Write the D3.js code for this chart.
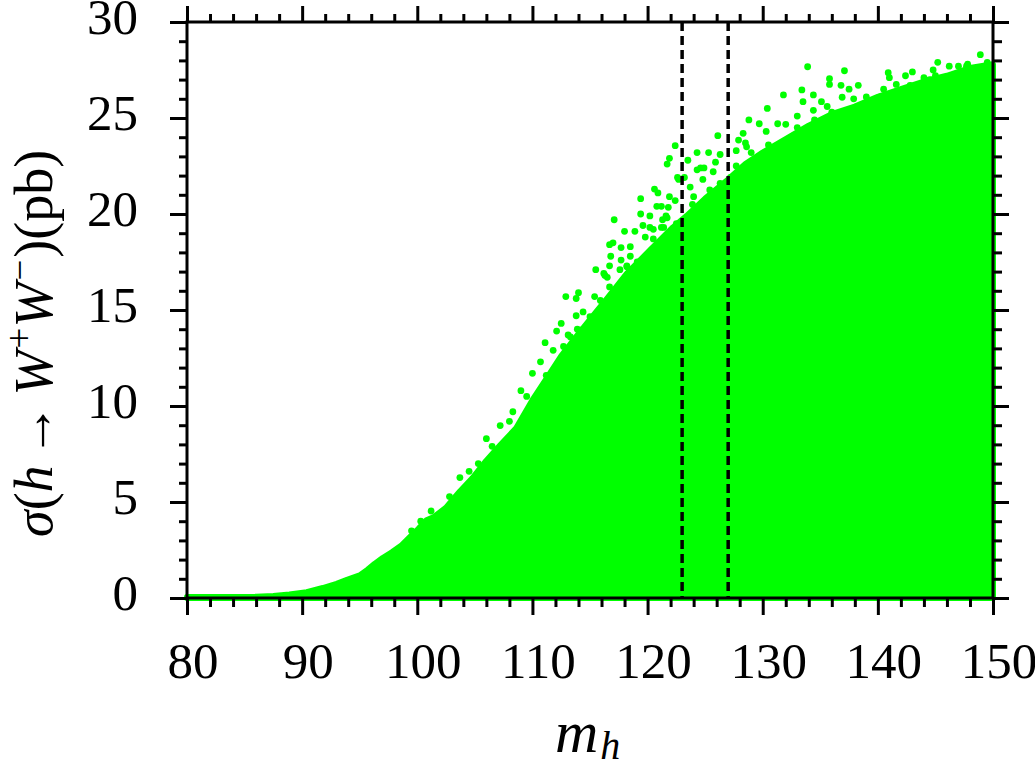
<!DOCTYPE html>
<html>
<head>
<meta charset="utf-8">
<script src="https://cdn.jsdelivr.net/npm/d3@7"></script>
<style>
  html, body { margin: 0; padding: 0; background: #fff; }
  svg { display: block; }
</style>
</head>
<body>
<svg id="chart" width="1035" height="762"></svg>
<script>
// ---- data ----
// dense body of the scatter: upper edge (m_h, sigma in pb)
const bodyM = [80, 82, 84, 86, 87.5, 88.9, 90.4, 91.8, 93.0, 93.9, 95.0, 95.7, 96.3, 97.0, 97.8, 98.6, 99.4, 100.1, 100.8, 101.4, 102.5, 103.7, 104.8, 106.0, 107.2, 108.6, 110.1, 111.2, 112.5, 113.8, 115.0, 116.5, 118.2, 120.2, 122.2, 123.4, 125.0, 127.0, 128.5, 130.0, 132.0, 134.0, 136.0, 138.0, 140.0, 142.0, 144.0, 146.0, 148.0, 150.0];
const bodyS = [0.05, 0.05, 0.05, 0.06, 0.1, 0.18, 0.3, 0.52, 0.74, 0.95, 1.18, 1.48, 1.78, 2.08, 2.38, 2.72, 3.2, 3.6, 4.05, 4.2, 4.7, 5.55, 6.25, 7.15, 7.95, 8.85, 10.4, 11.4, 12.6, 13.6, 14.5, 15.6, 16.9, 18.1, 19.3, 19.9, 20.8, 21.8, 22.6, 23.2, 23.9, 24.6, 25.2, 25.6, 26.1, 26.5, 26.9, 27.2, 27.6, 27.8];

// individual points scattered above / along the edge of the dense body
const dotM = [101.2, 102.8, 103.7, 106.0, 107.2, 108.3, 109.0, 110.0, 110.7, 111.2, 111.8,
  111.1, 112.5, 113.1, 113.8, 113.9, 112.9, 114.0, 113.8, 115.4, 115.5, 116.3, 116.7, 116.8, 117.7, 117.6, 118.2, 116.2,
  117.0, 117.7, 118.5, 116.7, 118.0, 118.9, 119.6, 119.8, 120.5, 120.2, 121.2, 117.1, 119.4, 120.2, 121.3, 121.6, 121.7,
  120.8, 121.2, 121.8, 119.4, 121.9, 122.4, 120.6, 120.9, 122.7, 123.2, 122.6, 124.0, 121.7, 121.9, 122.4, 123.5, 124.3,
  124.3, 124.9, 125.7, 125.3, 126.3, 125.9, 126.1, 127.2, 127.7, 127.9, 128.3, 128.5, 128.6, 124.6,
  128.8, 129.7, 130.3, 130.4, 131.3, 132.0, 131.8, 133.4, 133.5, 133.9, 134.4, 135.1, 135.8, 135.8, 136.8, 136.9, 137.1,
  137.5, 137.9, 138.3, 140.5, 140.9, 141.0, 141.6, 141.8, 142.4, 142.6, 142.8, 143.0, 144.0, 144.5, 144.8, 144.9, 145.0,
  145.2, 146.2, 147.0, 148.9, 147.8, 149.5, 129.0, 130.5, 132.5, 133.0, 134.5, 136.0,
  112.1, 112.7, 114.4, 115.0, 115.9, 116.7, 117.3, 116.5, 118.2, 119.1, 120.2, 118.5, 121.1, 122.0, 120.5, 121.4, 122.5,
  124.0, 125.1, 123.9, 125.4, 126.3, 127.7, 128.3, 123.7, 124.8, 118.5, 119.6, 114.4, 113.3,
  133.8, 135.6, 136.7, 138.2, 139.6, 140.2, 141.9, 143.4, 144.2, 146.0, 147.1, 148.3, 132.4, 131.5, 130.3, 129.5,
  133.0, 134.4, 135.6, 139.0, 141.1, 147.7,
  104.5, 105.3, 106.5, 108.0, 109.5, 100.3, 99.5];
const dotS = [4.53, 5.28, 6.27, 8.3, 8.98, 9.7, 10.8, 11.7, 12.3, 11.6, 12.9,
  13.3, 14.3, 13.7, 14.7, 14.0, 15.7, 15.9, 15.6, 15.7, 17.1, 16.8, 17.3, 17.8, 17.6, 17.1, 17.3, 16.9,
  18.5, 18.25, 18.3, 18.4, 19.1, 19.1, 19.4, 18.8, 18.7, 19.3, 19.3, 19.7, 20.0, 19.9, 19.7, 19.9, 19.8,
  20.4, 20.4, 20.35, 20.8, 20.9, 20.7, 21.3, 21.1, 21.8, 21.9, 21.9, 20.9, 22.6, 22.9, 23.56, 22.8, 23.2,
  22.3, 22.4, 22.2, 23.2, 23.1, 22.7, 24.08, 21.9, 23.3, 23.85, 24.2, 23.7, 23.5, 22.4,
  24.9, 24.7, 24.3, 25.5, 24.7, 24.67, 26.2, 26.46, 25.85, 27.67, 26.2, 25.85, 27.05, 26.75, 26.7, 26.08, 27.46,
  26.5, 26.0, 26.7, 26.5, 27.36, 27.1, 26.75, 26.4, 27.2, 26.2, 26.7, 27.4, 27.1, 27.0, 27.5, 26.7, 27.2,
  27.9, 27.7, 27.7, 28.3, 27.8, 27.9, 23.2, 23.6, 24.0, 24.5, 24.9, 25.3,
  13.9, 13.1, 14.9, 14.65, 15.5, 16.2, 15.7, 16.7, 17.25, 17.5, 17.8, 17.8, 18.5, 18.6, 19.2, 19.3, 19.5,
  20.0, 20.4, 20.5, 21.25, 21.6, 22.5, 22.3, 21.4, 21.8, 16.7, 16.9, 14.0, 13.6,
  24.2, 24.5, 25.1, 25.4, 25.8, 26.1, 26.3, 26.3, 26.6, 27.0, 27.3, 27.5, 23.85, 23.5, 23.2, 22.8,
  25.1, 25.4, 25.6, 26.1, 25.9, 27.7,
  6.6, 7.0, 7.9, 9.2, 10.5, 4.0, 3.5];

// vertical dashed markers
const markers = [123, 127];

// axis ticks
const xMajor = [80, 90, 100, 110, 120, 130, 140, 150];
const xMinor = [82, 84, 86, 88, 92, 94, 96, 98, 102, 104, 106, 108, 112, 114, 116, 118, 122, 124, 126, 128, 132, 134, 136, 138, 142, 144, 146, 148];
const yMajor = [0, 5, 10, 15, 20, 25, 30];
const yMinor = [1, 2, 3, 4, 6, 7, 8, 9, 11, 12, 13, 14, 16, 17, 18, 19, 21, 22, 23, 24, 26, 27, 28, 29];

// ---- drawing ----
const FONT = "'Liberation Serif', 'Times New Roman', Times, serif";
const L = 187, R = 993, T = 22, B = 598;
const svg = d3.select("#chart").attr("font-family", FONT);
const x = d3.scaleLinear().domain([80, 150]).range([L, R]);
const y = d3.scaleLinear().domain([0, 30]).range([B, T]);
const GREEN = "#00ff00";

const body = bodyM.map((m, i) => ({ m, s: bodyS[i] }));
const area = d3.area().x(d => x(d.m)).y0(y(0)).y1(d => y(d.s));
svg.append("path").datum(body)
  .attr("d", area)
  .attr("fill", GREEN)
  .attr("stroke", GREEN)
  .attr("stroke-width", 6)
  .attr("stroke-linejoin", "round");

const dots = dotM.map((m, i) => ({ m, s: dotS[i] }));
svg.append("g").selectAll("circle").data(dots).join("circle")
  .attr("cx", d => x(d.m)).attr("cy", d => y(d.s)).attr("r", 3.4)
  .attr("fill", GREEN);

// dashed lines
svg.append("g").selectAll("line").data(markers).join("line")
  .attr("x1", d => x(d)).attr("x2", d => x(d))
  .attr("y1", y(30)).attr("y2", y(0))
  .attr("stroke", "#000").attr("stroke-width", 3.5)
  .attr("stroke-dasharray", "9,5");

// axes (ticks outward)
function styleAxis(g) {
  g.select(".domain").remove();
  g.selectAll(".tick line").attr("stroke", "#000").attr("stroke-width", 3);
  g.selectAll(".tick text").remove();
}
svg.append("g").attr("transform", `translate(0,${B})`)
  .call(d3.axisBottom(x).tickValues(xMajor).tickSize(17)).call(styleAxis);
svg.append("g").attr("transform", `translate(0,${B})`)
  .call(d3.axisBottom(x).tickValues(xMinor).tickSize(9)).call(styleAxis);
svg.append("g").attr("transform", `translate(0,${T})`)
  .call(d3.axisTop(x).tickValues(xMajor).tickSize(16)).call(styleAxis);
svg.append("g").attr("transform", `translate(0,${T})`)
  .call(d3.axisTop(x).tickValues(xMinor).tickSize(8)).call(styleAxis);
svg.append("g").attr("transform", `translate(${L},0)`)
  .call(d3.axisLeft(y).tickValues(yMajor).tickSize(17)).call(styleAxis);
svg.append("g").attr("transform", `translate(${L},0)`)
  .call(d3.axisLeft(y).tickValues(yMinor).tickSize(8)).call(styleAxis);
svg.append("g").attr("transform", `translate(${R},0)`)
  .call(d3.axisRight(y).tickValues(yMajor).tickSize(16)).call(styleAxis);
svg.append("g").attr("transform", `translate(${R},0)`)
  .call(d3.axisRight(y).tickValues(yMinor).tickSize(9)).call(styleAxis);

svg.append("rect").attr("x", L).attr("y", T).attr("width", R - L).attr("height", B - T)
  .attr("fill", "none").attr("stroke", "#000").attr("stroke-width", 3);

// tick labels
svg.append("g").selectAll("text").data(xMajor).join("text")
  .attr("font-family", FONT)
  .attr("x", d => x(d) + 6).attr("y", 678)
  .attr("text-anchor", "middle").attr("font-size", 51)
  .text(d => d);
svg.append("g").selectAll("text").data(yMajor).join("text")
  .attr("font-family", FONT)
  .attr("x", 138).attr("y", d => y(d) + 12)
  .attr("text-anchor", "end").attr("font-size", 51)
  .text(d => d);

// x title
const xt = svg.append("text").attr("font-family", FONT)
  .attr("x", 555).attr("y", 752).attr("font-size", 60);
xt.append("tspan").attr("font-style", "italic").text("m");
xt.append("tspan").attr("font-style", "italic").attr("font-size", 40).attr("dx", 2).attr("dy", 7).text("h");

// y title (rotated, starting at the bottom)
const yt = svg.append("text").attr("font-family", FONT)
  .attr("transform", "translate(52,537) rotate(-90)")
  .attr("font-size", 54);
yt.append("tspan").attr("font-style", "italic").text("σ");
yt.append("tspan").text("(");
yt.append("tspan").attr("font-style", "italic").text("h");
yt.append("tspan").attr("dx", 8).text("→");
yt.append("tspan").attr("dx", 8).attr("font-style", "italic").text("W");
yt.append("tspan").attr("font-size", 37).attr("dy", -20).attr("dx", 2).text("+");
yt.append("tspan").attr("font-style", "italic").attr("dy", 20).text("W");
yt.append("tspan").attr("font-size", 37).attr("dy", -20).attr("dx", 2).text("−");
yt.append("tspan").attr("dy", 20).attr("dx", 2).text(")(pb)");
</script>
</body>
</html>
